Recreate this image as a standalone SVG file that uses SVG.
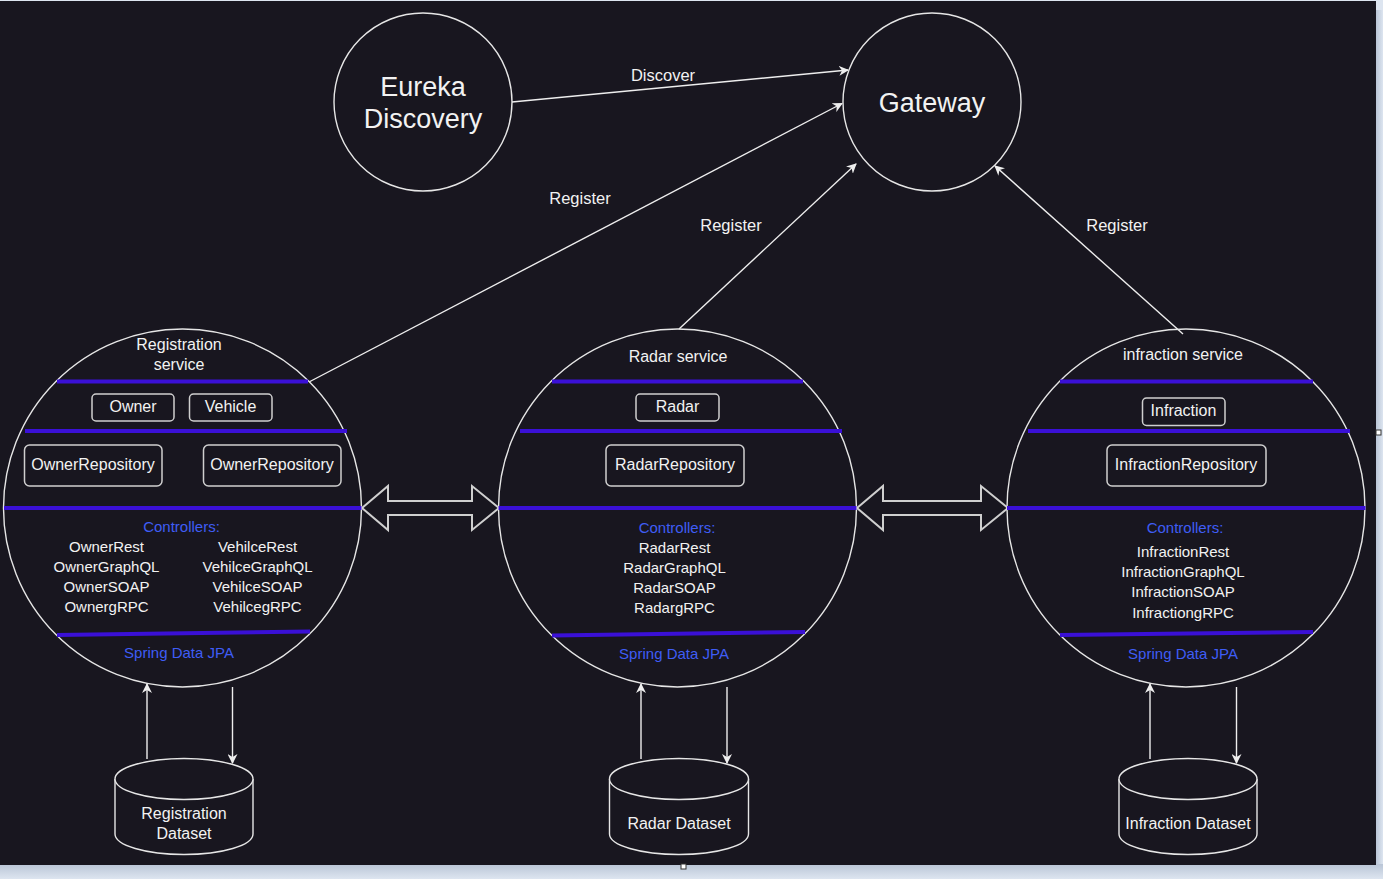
<svg xmlns="http://www.w3.org/2000/svg" width="1383" height="879" viewBox="0 0 1383 879">
<defs>
<marker id="arr" viewBox="0 0 10 10" refX="9" refY="5" markerWidth="10" markerHeight="10" markerUnits="userSpaceOnUse" orient="auto">
<path d="M0,0 L10,5 L0,10 L3,5 z" fill="#eeeeee"/>
</marker>
<linearGradient id="bot" x1="0" y1="0" x2="0" y2="1"><stop offset="0" stop-color="#b9c5d6"/><stop offset="1" stop-color="#dde5f0"/></linearGradient>
<linearGradient id="rgt" x1="0" y1="0" x2="1" y2="0"><stop offset="0" stop-color="#b9c5d6"/><stop offset="1" stop-color="#dde5f0"/></linearGradient>
</defs>
<style>
text{font-family:"Liberation Sans",Arial,sans-serif;fill:#f2f2f2;text-anchor:middle;dominant-baseline:central}
.big{font-size:27px}
.lbl{font-size:16.5px}
.t16{font-size:16px}
.t15{font-size:15px}
.blue{fill:#3f5df5;font-size:15px}
.circ{fill:none;stroke:#e6e6e6;stroke-width:1.4}
.box{fill:none;stroke:#cfcfcf;stroke-width:1.5}
.pl{stroke:#3a10d6;stroke-width:4;fill:none}
.edge{stroke:#eeeeee;stroke-width:1.4;fill:none}
.blk{fill:#18161f;stroke:#cfcfcf;stroke-width:2}
.cyl{fill:#18161f;stroke:#e6e6e6;stroke-width:1.4}
</style>
<rect x="0" y="0" width="1383" height="879" fill="#dde5f0"/>
<rect x="1376" y="10" width="7" height="855" fill="url(#rgt)"/>
<rect x="0" y="864" width="1383" height="15" fill="url(#bot)"/>
<rect x="0" y="1" width="1376" height="864" fill="#18161f"/>
<rect x="1376" y="430" width="5" height="5" fill="#ffffff" stroke="#333" stroke-width="1"/>
<rect x="681" y="864" width="5" height="5" fill="#ffffff" stroke="#333" stroke-width="1"/>

<g id="connectors">
<line class="edge" x1="512" y1="102" x2="848" y2="70" marker-end="url(#arr)"/>
<line class="edge" x1="309" y1="382" x2="842" y2="103.5" marker-end="url(#arr)"/>
<line class="edge" x1="679" y1="329" x2="856" y2="164" marker-end="url(#arr)"/>
<line class="edge" x1="1183" y1="334" x2="995" y2="166" marker-end="url(#arr)"/>
<text class="lbl" x="663" y="74.5">Discover</text>
<text class="lbl" x="580" y="197.5">Register</text>
<text class="lbl" x="731" y="224.5">Register</text>
<text class="lbl" x="1117" y="224.5">Register</text>
<polygon class="blk" points="362,508 388,486 388,501 472,501 472,486 499,508 472,530 472,515 388,515 388,530"/>
<polygon class="blk" points="857,508 883,486 883,501 981,501 981,486 1008,508 981,530 981,515 883,515 883,530"/>
<line class="edge" x1="147" y1="759" x2="147" y2="684" marker-end="url(#arr)"/>
<line class="edge" x1="232.5" y1="687" x2="232.5" y2="763" marker-end="url(#arr)"/>
<line class="edge" x1="641" y1="759" x2="641" y2="684" marker-end="url(#arr)"/>
<line class="edge" x1="727" y1="687" x2="727" y2="763" marker-end="url(#arr)"/>
<line class="edge" x1="1150" y1="759" x2="1150" y2="684" marker-end="url(#arr)"/>
<line class="edge" x1="1236.5" y1="687" x2="1236.5" y2="763" marker-end="url(#arr)"/>
</g>

<g id="eureka">
<circle class="circ" cx="423" cy="102" r="89"/>
<text class="big" x="423" y="86.5">Eureka</text>
<text class="big" x="423" y="118.5">Discovery</text>
</g>

<g id="gateway">
<circle class="circ" cx="932" cy="102" r="89"/>
<text class="big" x="932" y="103">Gateway</text>
</g>

<g id="registration-service">
<circle class="circ" cx="182.5" cy="508" r="179"/>
<text class="t16" x="179" y="344">Registration</text>
<text class="t16" x="179" y="364">service</text>
<line class="pl" x1="57" y1="381.5" x2="308" y2="381.5"/>
<rect class="box" x="92" y="394" width="82" height="27" rx="4"/>
<text class="t16" x="133" y="406.5">Owner</text>
<rect class="box" x="189.5" y="394" width="82.5" height="27" rx="4"/>
<text class="t16" x="230.5" y="406.5">Vehicle</text>
<line class="pl" x1="25" y1="431" x2="347" y2="431"/>
<rect class="box" x="24.5" y="445" width="137.5" height="41" rx="5"/>
<text class="t16" x="93" y="464.5">OwnerRepository</text>
<rect class="box" x="203.5" y="445" width="137.5" height="41" rx="5"/>
<text class="t16" x="272" y="464.5">OwnerRepository</text>
<line class="pl" x1="4" y1="508" x2="361.5" y2="508"/>
<text class="blue" x="181.5" y="526">Controllers:</text>
<text class="t15" x="106.5" y="546">OwnerRest</text>
<text class="t15" x="106.5" y="566">OwnerGraphQL</text>
<text class="t15" x="106.5" y="586">OwnerSOAP</text>
<text class="t15" x="106.5" y="606.5">OwnergRPC</text>
<text class="t15" x="257.5" y="546">VehilceRest</text>
<text class="t15" x="257.5" y="566">VehilceGraphQL</text>
<text class="t15" x="257.5" y="586">VehilceSOAP</text>
<text class="t15" x="257.5" y="606.5">VehilcegRPC</text>
<line class="pl" x1="57" y1="635" x2="310" y2="631.5"/>
<text class="blue" x="179" y="652.5">Spring Data JPA</text>
</g>

<g id="radar-service">
<circle class="circ" cx="677.5" cy="508" r="179"/>
<text class="t16" x="678" y="356">Radar service</text>
<line class="pl" x1="552" y1="381.5" x2="803" y2="381.5"/>
<rect class="box" x="636" y="394" width="83" height="27" rx="4"/>
<text class="t16" x="677.5" y="406.5">Radar</text>
<line class="pl" x1="520" y1="431" x2="842" y2="431"/>
<rect class="box" x="606" y="445" width="138" height="41" rx="5"/>
<text class="t16" x="675" y="464.5">RadarRepository</text>
<line class="pl" x1="498.5" y1="508" x2="856.5" y2="508"/>
<text class="blue" x="677" y="527">Controllers:</text>
<text class="t15" x="674.5" y="547">RadarRest</text>
<text class="t15" x="674.5" y="567.5">RadarGraphQL</text>
<text class="t15" x="674.5" y="587">RadarSOAP</text>
<text class="t15" x="674.5" y="607.5">RadargRPC</text>
<line class="pl" x1="552" y1="635.5" x2="805" y2="632"/>
<text class="blue" x="674" y="653">Spring Data JPA</text>
</g>

<g id="infraction-service">
<circle class="circ" cx="1186" cy="508" r="179"/>
<text class="t16" x="1183" y="354">infraction service</text>
<line class="pl" x1="1060" y1="381.5" x2="1313" y2="381.5"/>
<rect class="box" x="1142.5" y="398" width="82.5" height="27.5" rx="4"/>
<text class="t16" x="1183.5" y="410.5">Infraction</text>
<line class="pl" x1="1028" y1="431" x2="1350" y2="431"/>
<rect class="box" x="1107" y="445" width="159" height="41" rx="5"/>
<text class="t16" x="1186" y="464.5">InfractionRepository</text>
<line class="pl" x1="1007" y1="508" x2="1365.5" y2="508"/>
<text class="blue" x="1185" y="527">Controllers:</text>
<text class="t15" x="1183" y="551">InfractionRest</text>
<text class="t15" x="1183" y="571.5">InfractionGraphQL</text>
<text class="t15" x="1183" y="591.5">InfractionSOAP</text>
<text class="t15" x="1183" y="612.5">InfractiongRPC</text>
<line class="pl" x1="1060" y1="635" x2="1313" y2="632"/>
<text class="blue" x="1183" y="653">Spring Data JPA</text>
</g>

<g id="registration-dataset">
<path class="cyl" d="M115,779 A69,20.5 0 0 1 253,779 L253,834 A69,20.5 0 0 1 115,834 Z"/>
<path class="cyl" d="M115,779 A69,20.5 0 0 0 253,779" fill="none"/>
<text class="t16" x="184" y="813.5">Registration</text>
<text class="t16" x="184" y="833">Dataset</text>
</g>

<g id="radar-dataset">
<path class="cyl" d="M609.5,779 A69.5,20.5 0 0 1 748.5,779 L748.5,834 A69.5,20.5 0 0 1 609.5,834 Z"/>
<path class="cyl" d="M609.5,779 A69.5,20.5 0 0 0 748.5,779" fill="none"/>
<text class="t16" x="679" y="823.5">Radar Dataset</text>
</g>

<g id="infraction-dataset">
<path class="cyl" d="M1119,779 A69,20.5 0 0 1 1257,779 L1257,834 A69,20.5 0 0 1 1119,834 Z"/>
<path class="cyl" d="M1119,779 A69,20.5 0 0 0 1257,779" fill="none"/>
<text class="t16" x="1188" y="823">Infraction Dataset</text>
</g>
</svg>
